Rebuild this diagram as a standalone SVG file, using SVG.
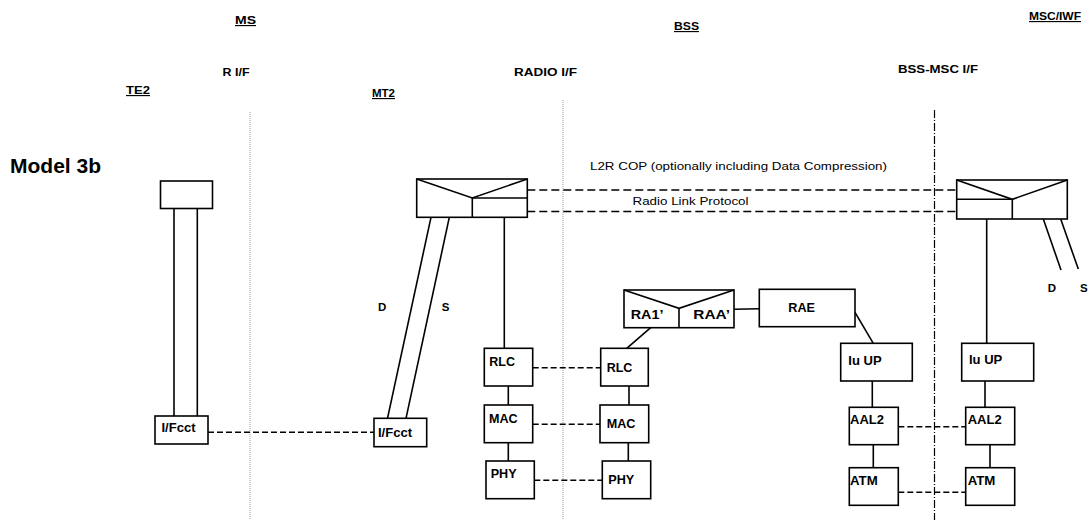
<svg xmlns="http://www.w3.org/2000/svg" width="1090" height="520" viewBox="0 0 1090 520">
<style>
text{font-family:"Liberation Sans",Arial,sans-serif;fill:#000}
.h{font-weight:bold;font-size:11.5px}
.u{text-decoration:underline}
.b{font-weight:bold;font-size:12px}
.p{font-size:10.5px}
.box{fill:#fff;stroke:#000;stroke-width:1.6}
.ln{stroke:#000;stroke-width:1.6;fill:none}
.dash{stroke:#000;stroke-width:1.5;stroke-dasharray:6 3;fill:none}
.dash2{stroke:#000;stroke-width:1.5;stroke-dasharray:8 4;fill:none}
.ifl{stroke:#9a9a9a;stroke-width:1;stroke-dasharray:1 1;fill:none}
.ifd{stroke:#000;stroke-width:1.2;stroke-dasharray:8 2 1 2;fill:none}
</style>
<rect width="1090" height="520" fill="#fff"/>
<g id="interfaces">
<line class="ifl" x1="250" y1="112" x2="250" y2="520"/>
<line class="ifl" x1="563" y1="100" x2="563" y2="520"/>
<line class="ifd" x1="934.5" y1="110" x2="934.5" y2="520"/>
</g>
<g id="headers">
<text class="h u" x="235" y="24" textLength="21" lengthAdjust="spacingAndGlyphs">MS</text>
<text class="h" x="222.5" y="76" textLength="27" lengthAdjust="spacingAndGlyphs">R I/F</text>
<text class="h u" x="126" y="94" textLength="24" lengthAdjust="spacingAndGlyphs">TE2</text>
<text class="h u" x="372" y="97" textLength="23" lengthAdjust="spacingAndGlyphs">MT2</text>
<text class="h" x="514" y="76" textLength="63" lengthAdjust="spacingAndGlyphs">RADIO I/F</text>
<text class="h u" x="674" y="30" textLength="25" lengthAdjust="spacingAndGlyphs">BSS</text>
<text class="h" x="898" y="73" textLength="80" lengthAdjust="spacingAndGlyphs">BSS-MSC I/F</text>
<text class="h u" x="1029" y="20" textLength="52" lengthAdjust="spacingAndGlyphs">MSC/IWF</text>
<text x="10" y="173" font-weight="bold" font-size="20.5" textLength="91" lengthAdjust="spacingAndGlyphs">Model 3b</text>
</g>
<g id="connectors">
<line class="ln" x1="174" y1="208.5" x2="174" y2="416"/>
<line class="ln" x1="197.3" y1="208.5" x2="197.3" y2="416"/>
<line class="dash" x1="208" y1="432.3" x2="374" y2="432.3"/>
<line class="ln" x1="431" y1="217.3" x2="387.5" y2="418.3"/>
<line class="ln" x1="449.3" y1="217.3" x2="406" y2="418.3"/>
<line class="ln" x1="504.3" y1="217.3" x2="504.3" y2="348.3"/>
<line class="dash2" x1="527.3" y1="190" x2="956.7" y2="190"/>
<line class="dash2" x1="527.3" y1="211.5" x2="956.7" y2="211.5"/>
<line class="ln" x1="1043.3" y1="219" x2="1061" y2="270"/>
<line class="ln" x1="1060.7" y1="219" x2="1078.3" y2="269"/>
<line class="ln" x1="986.7" y1="219" x2="986.7" y2="343.3"/>
<line class="dash" x1="532.7" y1="367.7" x2="600.7" y2="367.7"/>
<line class="ln" x1="508.3" y1="386" x2="508.3" y2="405"/>
<line class="ln" x1="629" y1="386" x2="629" y2="405"/>
<line class="dash" x1="532.7" y1="424.3" x2="600" y2="424.3"/>
<line class="ln" x1="508.3" y1="442.7" x2="508.3" y2="461"/>
<line class="ln" x1="628.3" y1="442.7" x2="628.3" y2="461"/>
<line class="dash" x1="534.3" y1="480.3" x2="602.3" y2="480.3"/>
<line class="ln" x1="650.7" y1="327.7" x2="626.7" y2="348.3"/>
<line class="ln" x1="734" y1="309.3" x2="759.3" y2="308.7"/>
<line class="ln" x1="855" y1="312.3" x2="873.3" y2="343.3"/>
<line class="ln" x1="872.3" y1="381" x2="872.3" y2="407.3"/>
<line class="ln" x1="873.3" y1="444.7" x2="873.3" y2="467.7"/>
<line class="ln" x1="985" y1="381" x2="985" y2="407.3"/>
<line class="ln" x1="990" y1="444.7" x2="990" y2="467.7"/>
<line class="dash" x1="898.3" y1="426.7" x2="965.7" y2="426.7"/>
<line class="dash" x1="898.3" y1="492.3" x2="965.7" y2="492.3"/>
<text class="p" x="590" y="170" textLength="297" lengthAdjust="spacingAndGlyphs">L2R COP (optionally including Data Compression)</text>
<text class="p" x="632.5" y="205" textLength="116" lengthAdjust="spacingAndGlyphs">Radio Link Protocol</text>
<text class="h" x="378" y="311">D</text>
<text class="h" x="441.7" y="311">S</text>
<text class="h" x="1047.7" y="291.7">D</text>
<text class="h" x="1080" y="291.7">S</text>
</g>
<g id="te2">
<rect class="box" x="160.5" y="181" width="52" height="27.5"/>
</g>
<g id="ifcct-left">
<rect class="box" x="155" y="416" width="53" height="28"/>
<text class="b" x="161.5" y="432" textLength="34" lengthAdjust="spacingAndGlyphs">I/Fcct</text>
</g>
<g id="ifcct-right">
<rect class="box" x="374" y="418.3" width="52.7" height="28.4"/>
<text class="b" x="378" y="437" textLength="34" lengthAdjust="spacingAndGlyphs">I/Fcct</text>
</g>
<g id="l2r-mt2">
<rect class="box" x="416.7" y="179" width="110.6" height="38.3"/>
<polyline class="ln" points="416.7,179 472.3,198 527.3,179"/>
<line class="ln" x1="472.3" y1="198" x2="527.3" y2="198"/>
<line class="ln" x1="472.3" y1="198" x2="472.3" y2="217.3"/>
</g>
<g id="l2r-msc">
<rect class="box" x="956.7" y="180" width="110.6" height="39"/>
<polyline class="ln" points="956.7,180 1012.3,199.3 1067.3,180"/>
<line class="ln" x1="956.7" y1="199.3" x2="1012.3" y2="199.3"/>
<line class="ln" x1="1012.3" y1="199.3" x2="1012.3" y2="219"/>
</g>
<g id="rlc-ms">
<rect class="box" x="484.3" y="348.3" width="48.4" height="37.7"/>
<text class="b" x="489.3" y="365.7" textLength="25.7" lengthAdjust="spacingAndGlyphs">RLC</text>
</g>
<g id="rlc-bss">
<rect class="box" x="600.7" y="348.3" width="47.6" height="37.7"/>
<text class="b" x="606.7" y="372.3" textLength="25.7" lengthAdjust="spacingAndGlyphs">RLC</text>
</g>
<g id="mac-ms">
<rect class="box" x="484.3" y="405" width="48.4" height="37.7"/>
<text class="b" x="489" y="422.7" textLength="28.7" lengthAdjust="spacingAndGlyphs">MAC</text>
</g>
<g id="mac-bss">
<rect class="box" x="600" y="405" width="48.7" height="37.7"/>
<text class="b" x="606.7" y="428.3" textLength="28.7" lengthAdjust="spacingAndGlyphs">MAC</text>
</g>
<g id="phy-ms">
<rect class="box" x="486" y="461" width="48.3" height="37.7"/>
<text class="b" x="490.7" y="478.3" textLength="26" lengthAdjust="spacingAndGlyphs">PHY</text>
</g>
<g id="phy-bss">
<rect class="box" x="602.3" y="461" width="48.4" height="37.7"/>
<text class="b" x="608.3" y="484.3" textLength="26" lengthAdjust="spacingAndGlyphs">PHY</text>
</g>
<g id="ra">
<rect class="box" x="624" y="290" width="110" height="37.7"/>
<polyline class="ln" points="624,290 679,308.3 734,290"/>
<line class="ln" x1="679" y1="308.3" x2="679" y2="327.7"/>
<text class="b" x="630.7" y="319.3" textLength="32.7" lengthAdjust="spacingAndGlyphs">RA1’</text>
<text class="b" x="693.3" y="319.3" textLength="36.7" lengthAdjust="spacingAndGlyphs">RAA’</text>
</g>
<g id="rae">
<rect class="box" x="759.3" y="289.3" width="95.7" height="37.4"/>
<text class="b" x="788.3" y="312.3" textLength="26.7" lengthAdjust="spacingAndGlyphs">RAE</text>
</g>
<g id="iuup-bss">
<rect class="box" x="840.7" y="343.3" width="71.6" height="37.7"/>
<text class="b" x="848.3" y="365" textLength="33.3" lengthAdjust="spacingAndGlyphs">Iu UP</text>
</g>
<g id="aal2-bss">
<rect class="box" x="849.3" y="407.3" width="49" height="37.4"/>
<text class="b" x="850" y="424" textLength="34" lengthAdjust="spacingAndGlyphs">AAL2</text>
</g>
<g id="atm-bss">
<rect class="box" x="849.3" y="467.7" width="49" height="37.6"/>
<text class="b" x="850" y="485" textLength="27.7" lengthAdjust="spacingAndGlyphs">ATM</text>
</g>
<g id="iuup-msc">
<rect class="box" x="961.7" y="343.3" width="72" height="37.7"/>
<text class="b" x="969" y="364" textLength="33.3" lengthAdjust="spacingAndGlyphs">Iu UP</text>
</g>
<g id="aal2-msc">
<rect class="box" x="965.7" y="407.3" width="49" height="37.4"/>
<text class="b" x="967.7" y="424" textLength="34" lengthAdjust="spacingAndGlyphs">AAL2</text>
</g>
<g id="atm-msc">
<rect class="box" x="965.7" y="467.7" width="49" height="37.6"/>
<text class="b" x="967.7" y="485" textLength="27.7" lengthAdjust="spacingAndGlyphs">ATM</text>
</g>
</svg>
